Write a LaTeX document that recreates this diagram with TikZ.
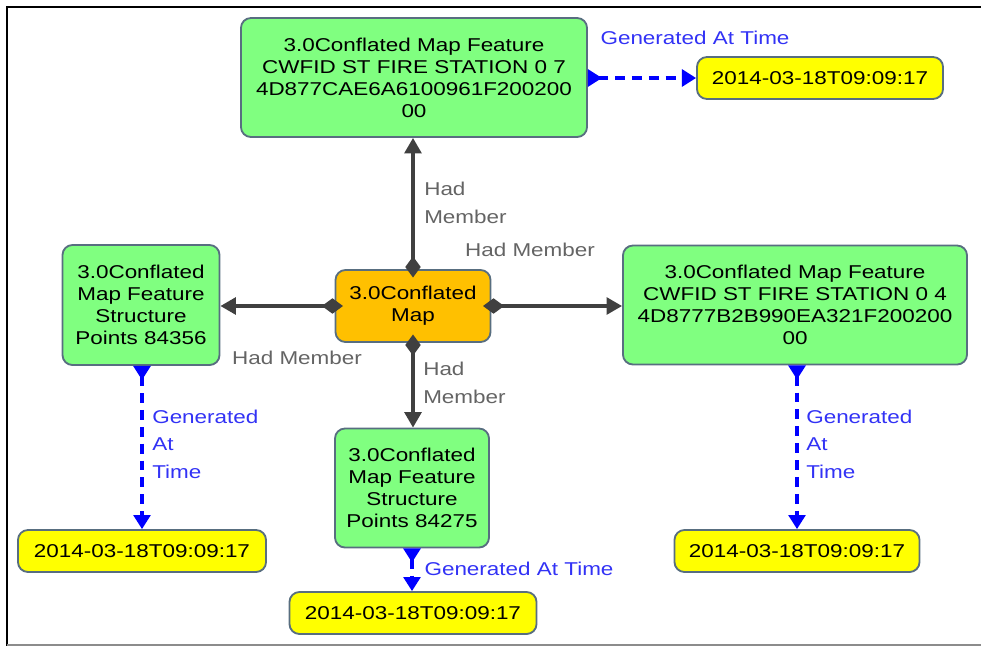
\documentclass[tikz,border=0pt]{standalone}
\usepackage{fontspec}
\setmainfont{Liberation Sans}[FakeStretch=1.21]
\usetikzlibrary{arrows.meta}
\definecolor{boxgreen}{RGB}{128,255,128}
\definecolor{boxorange}{RGB}{255,192,0}
\definecolor{boxyellow}{RGB}{255,255,0}
\definecolor{boxline}{RGB}{88,110,128}
\definecolor{edgegray}{RGB}{64,64,64}
\definecolor{lblgray}{RGB}{100,100,100}
\definecolor{lblblue}{RGB}{50,50,245}
\begin{document}
\begin{tikzpicture}[x=0.025cm, y=-0.025cm,
    box/.style={draw=boxline, line width=1.3pt, rounded corners=0.25cm, align=center,
      inner sep=0pt, font=\fontsize{13.2}{15.6}\selectfont},
    feat/.style={box, fill=boxgreen},
    mapbox/.style={box, fill=boxorange},
    timebox/.style={box, fill=boxyellow, minimum height=1.05cm},
    lbl/.style={inner sep=0pt, align=left, font=\fontsize{13.2}{19.6}\selectfont},
    hadm/.style={draw=edgegray, line width=2.3pt, shorten <=-6pt,
      {Diamond[length=15pt,width=11pt]}-{Triangle[length=11pt,width=12pt]}},
    gentime/.style={draw=blue, line width=2.2pt, dash pattern=on 7pt off 5pt,
      {Triangle[reversed,length=10pt,width=12pt]}-{Triangle[length=10pt,width=12pt]}}
  ]
  \useasboundingbox (0,0) rectangle (981,646);
  \draw [line width=1.6pt] (981,7) -- (7,7) -- (7,646);
  \draw [black!45, line width=1.5pt] (7,645) -- (981,645);

  \node [feat, minimum width=8.65cm, minimum height=2.975cm] (f7) at (414,77.5)
    {3.0Conflated Map Feature\\CWFID ST FIRE STATION 0 7\\4D877CAE6A6100961F200200\\00};
  \node [timebox, minimum width=6.15cm] (t1) at (820,78) {2014-03-18T09:09:17};
  \node [mapbox, minimum width=3.875cm, minimum height=1.8cm] (map) at (413,306)
    {3.0Conflated\\Map};
  \node [feat, minimum width=3.925cm, minimum height=3cm] (p1) at (141,305)
    {3.0Conflated\\Map Feature\\Structure\\Points 84356};
  \node [feat, minimum width=8.6cm, minimum height=2.975cm] (f4) at (795,305)
    {3.0Conflated Map Feature\\CWFID ST FIRE STATION 0 4\\4D8777B2B990EA321F200200\\00};
  \node [feat, minimum width=3.85cm, minimum height=2.975cm] (p2) at (412,488)
    {3.0Conflated\\Map Feature\\Structure\\Points 84275};
  \node [timebox, minimum width=6.2cm] (t2) at (142,551) {2014-03-18T09:09:17};
  \node [timebox, minimum width=6.175cm] (t3) at (413,613) {2014-03-18T09:09:17};
  \node [timebox, minimum width=6.125cm] (t4) at (797,551) {2014-03-18T09:09:17};

  % had member edges
  \draw [hadm] (map.north) -- (map.north |- f7.south);
  \draw [hadm] (map.west) -- (map.west -| p1.east);
  \draw [hadm] (map.east) -- (map.east -| f4.west);
  \draw [hadm] (map.south) -- (map.south |- p2.north);

  % generated at time edges
  \draw [gentime] (f7.east |- t1) -- (t1.west);
  \draw [gentime] (p1.south -| t2) -- (t2.north);
  \draw [gentime] (p2.south) -- (p2.south |- t3.north);
  \draw [gentime] (f4.south -| t4) -- (t4.north);

  \node [lbl, text=lblgray, anchor=west] (hm1) at (424,203) {Had\\Member};
  \node [lbl, text=lblgray] (hm2) at (530,250) {Had Member};
  \node [lbl, text=lblgray] (hm3) at (297,358) {Had Member};
  \node [lbl, text=lblgray, anchor=west] (hm4) at (423,383) {Had\\Member};

  \node [lbl, text=lblblue] (gt1) at (695,38) {Generated At Time};
  \node [lbl, text=lblblue, anchor=west] (gt2) at (152,444) {Generated\\At\\Time};
  \node [lbl, text=lblblue, anchor=west] (gt3) at (806,444) {Generated\\At\\Time};
  \node [lbl, text=lblblue] (gt4) at (519,569) {Generated At Time};
\end{tikzpicture}
\end{document}
